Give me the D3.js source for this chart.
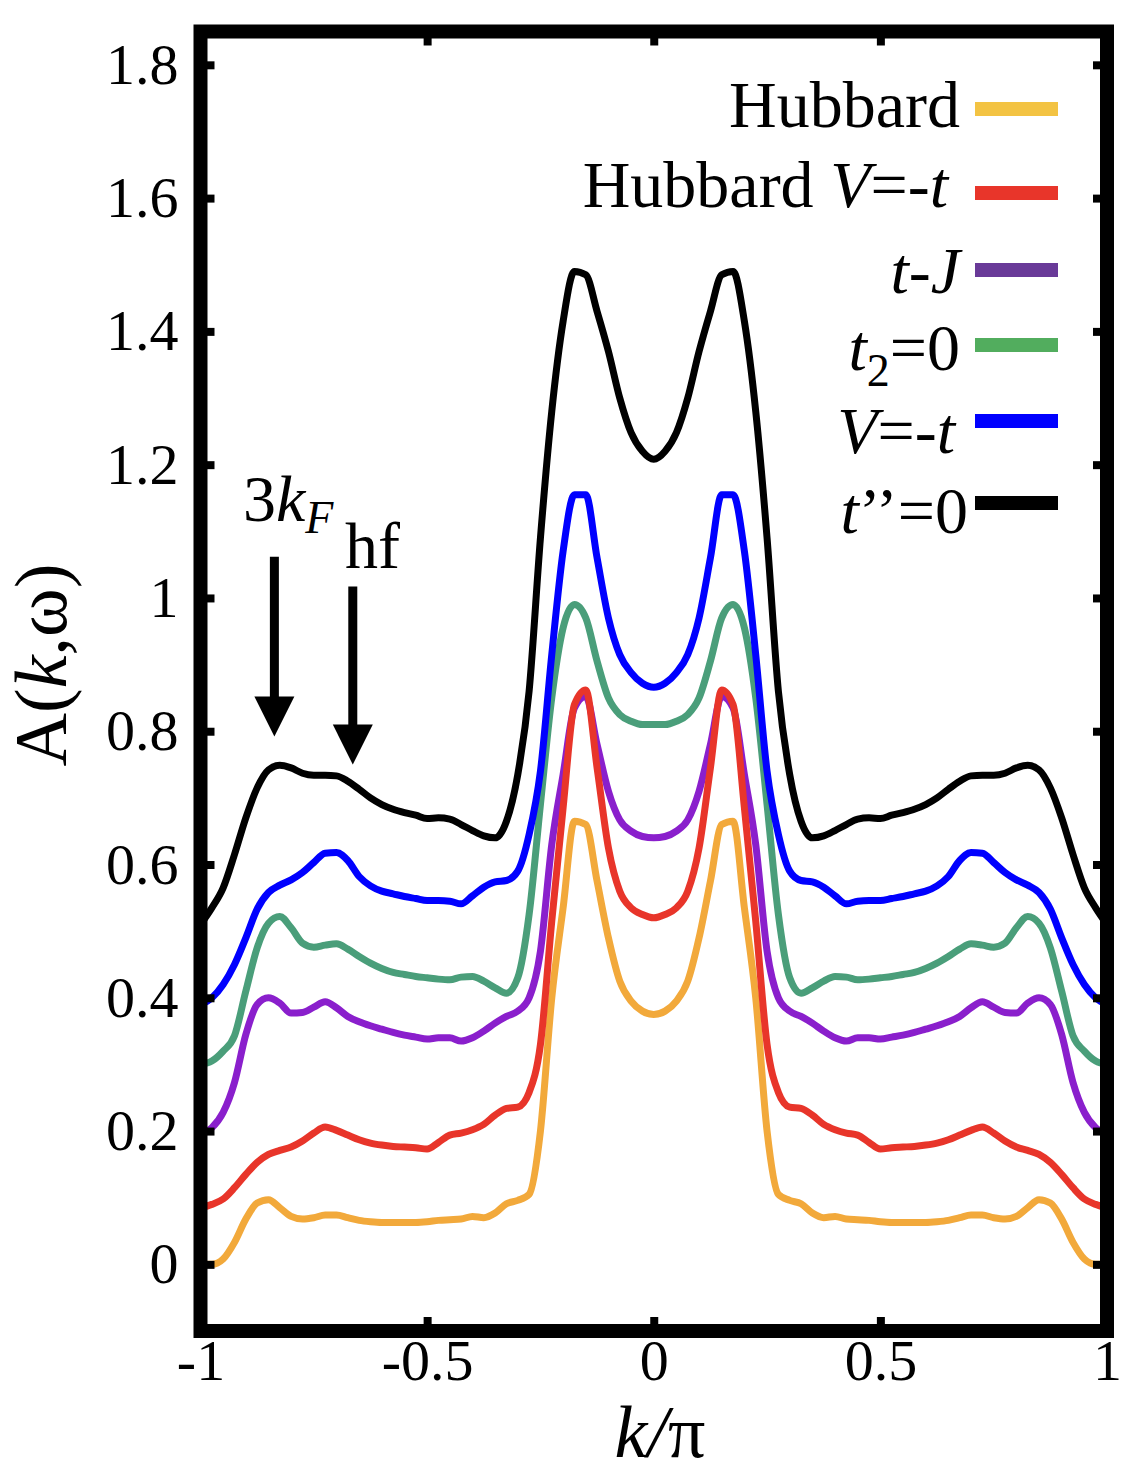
<!DOCTYPE html>
<html>
<head>
<meta charset="utf-8">
<script src="https://cdn.jsdelivr.net/npm/d3@7"></script>
<style>
  body { margin: 0; background: #fff; }
  svg { display: block; font-family: "Liberation Serif", "Times New Roman", serif; }
</style>
</head>
<body>
<svg id="chart" width="1136" height="1484"></svg>
<script>
// k/pi grid
var kValues = [
  -1, -0.975, -0.95, -0.925, -0.9, -0.875, -0.85, -0.825, -0.8, -0.775,
  -0.75, -0.725, -0.7, -0.675, -0.65, -0.625, -0.6, -0.575, -0.55, -0.525,
  -0.5, -0.475, -0.45, -0.425, -0.4, -0.375, -0.35, -0.325, -0.3, -0.275,
  -0.25, -0.225, -0.2, -0.175, -0.15, -0.125, -0.1, -0.075, -0.05, -0.025,
  0,
  0.025, 0.05, 0.075, 0.1, 0.125, 0.15, 0.175, 0.2, 0.225, 0.25,
  0.275, 0.3, 0.325, 0.35, 0.375, 0.4, 0.425, 0.45, 0.475, 0.5,
  0.525, 0.55, 0.575, 0.6, 0.625, 0.65, 0.675, 0.7, 0.725, 0.75,
  0.775, 0.8, 0.825, 0.85, 0.875, 0.9, 0.925, 0.95, 0.975, 1
];

var hubbard = [
  0.0, 0.0, 0.008, 0.033, 0.068, 0.092, 0.097, 0.085, 0.072, 0.068,
  0.070, 0.074, 0.074, 0.070, 0.066, 0.064, 0.063, 0.063, 0.063, 0.063,
  0.064, 0.066, 0.067, 0.068, 0.072, 0.070, 0.077, 0.091, 0.096, 0.105,
  0.20, 0.40, 0.535, 0.665, 0.66, 0.575, 0.49, 0.425, 0.395, 0.38,
  0.375,
  0.38, 0.395, 0.425, 0.49, 0.575, 0.66, 0.665, 0.535, 0.40, 0.20,
  0.105, 0.096, 0.091, 0.077, 0.070, 0.072, 0.068, 0.067, 0.066, 0.064,
  0.063, 0.063, 0.063, 0.063, 0.064, 0.066, 0.070, 0.074, 0.074, 0.070,
  0.068, 0.072, 0.085, 0.097, 0.092, 0.068, 0.033, 0.008, 0.0, 0.0
];

var hubbardV = [
  0.085, 0.09, 0.098, 0.115, 0.135, 0.153, 0.165, 0.171, 0.176, 0.185,
  0.197, 0.206, 0.201, 0.194, 0.187, 0.182, 0.179, 0.177, 0.176, 0.175,
  0.173, 0.183, 0.194, 0.197, 0.202, 0.21, 0.224, 0.234, 0.236, 0.258,
  0.33, 0.515, 0.685, 0.84, 0.862, 0.745, 0.625, 0.56, 0.535, 0.525,
  0.52,
  0.525, 0.535, 0.56, 0.625, 0.745, 0.862, 0.84, 0.685, 0.515, 0.33,
  0.258, 0.236, 0.234, 0.224, 0.21, 0.202, 0.197, 0.194, 0.183, 0.173,
  0.175, 0.176, 0.177, 0.179, 0.182, 0.187, 0.194, 0.201, 0.206, 0.197,
  0.185, 0.176, 0.171, 0.165, 0.153, 0.135, 0.115, 0.098, 0.09, 0.085
];

var tJ = [
  0.195, 0.205, 0.228, 0.273, 0.345, 0.39, 0.400, 0.392, 0.377, 0.378,
  0.386, 0.394, 0.385, 0.372, 0.364, 0.358, 0.353, 0.348, 0.344, 0.341,
  0.338, 0.340, 0.340, 0.335, 0.340, 0.350, 0.362, 0.372, 0.380, 0.40,
  0.47, 0.63, 0.735, 0.835, 0.852, 0.78, 0.71, 0.667, 0.65, 0.642,
  0.64,
  0.642, 0.65, 0.667, 0.71, 0.78, 0.852, 0.835, 0.735, 0.63, 0.47,
  0.40, 0.380, 0.372, 0.362, 0.350, 0.340, 0.335, 0.340, 0.340, 0.338,
  0.341, 0.344, 0.348, 0.353, 0.358, 0.364, 0.372, 0.385, 0.394, 0.386,
  0.378, 0.377, 0.392, 0.400, 0.39, 0.345, 0.273, 0.228, 0.205, 0.195
];

var t2zero = [
  0.30, 0.305, 0.32, 0.343, 0.41, 0.475, 0.512, 0.522, 0.505, 0.482,
  0.476, 0.479, 0.481, 0.473, 0.462, 0.452, 0.444, 0.438, 0.435, 0.432,
  0.430, 0.428, 0.427, 0.431, 0.432, 0.425, 0.415, 0.407, 0.43, 0.525,
  0.69, 0.85, 0.955, 0.99, 0.97, 0.905, 0.85, 0.825, 0.815, 0.81,
  0.81,
  0.81, 0.815, 0.825, 0.85, 0.905, 0.97, 0.99, 0.955, 0.85, 0.69,
  0.525, 0.43, 0.407, 0.415, 0.425, 0.432, 0.431, 0.427, 0.428, 0.430,
  0.432, 0.435, 0.438, 0.444, 0.452, 0.462, 0.473, 0.481, 0.479, 0.476,
  0.482, 0.505, 0.522, 0.512, 0.475, 0.41, 0.343, 0.32, 0.305, 0.30
];

var vMinusT = [
  0.39, 0.40, 0.42, 0.45, 0.49, 0.533, 0.558, 0.569, 0.577, 0.588,
  0.603, 0.617, 0.618, 0.606, 0.582, 0.568, 0.560, 0.556, 0.552, 0.549,
  0.546, 0.546, 0.545, 0.541, 0.553, 0.566, 0.574, 0.576, 0.590, 0.645,
  0.74, 0.915, 1.07, 1.155, 1.155, 1.06, 0.97, 0.915, 0.888, 0.872,
  0.866,
  0.872, 0.888, 0.915, 0.97, 1.06, 1.155, 1.155, 1.07, 0.915, 0.74,
  0.645, 0.590, 0.576, 0.574, 0.566, 0.553, 0.541, 0.545, 0.546, 0.546,
  0.549, 0.552, 0.556, 0.560, 0.568, 0.582, 0.606, 0.618, 0.617, 0.603,
  0.588, 0.577, 0.569, 0.558, 0.533, 0.49, 0.45, 0.42, 0.40, 0.39
];

var t3zero = [
  0.51, 0.535, 0.565, 0.615, 0.67, 0.715, 0.742, 0.749, 0.745, 0.737,
  0.734, 0.734, 0.733, 0.725, 0.713, 0.700, 0.690, 0.683, 0.678, 0.674,
  0.669, 0.670, 0.668, 0.660, 0.651, 0.643, 0.640, 0.665, 0.735, 0.86,
  1.09, 1.28, 1.415, 1.49, 1.485, 1.43, 1.37, 1.30, 1.248, 1.22,
  1.208,
  1.22, 1.248, 1.30, 1.37, 1.43, 1.485, 1.49, 1.415, 1.28, 1.09,
  0.86, 0.735, 0.665, 0.640, 0.643, 0.651, 0.660, 0.668, 0.670, 0.669,
  0.674, 0.678, 0.683, 0.690, 0.700, 0.713, 0.725, 0.733, 0.734, 0.734,
  0.737, 0.745, 0.749, 0.742, 0.715, 0.67, 0.615, 0.565, 0.535, 0.51
];

var xTicks = [-1, -0.5, 0, 0.5, 1];
var xTickLabels = ["-1", "-0.5", "0", "0.5", "1"];
var yTicks = [0, 0.2, 0.4, 0.6, 0.8, 1, 1.2, 1.4, 1.6, 1.8];
var yTickLabels = ["0", "0.2", "0.4", "0.6", "0.8", "1", "1.2", "1.4", "1.6", "1.8"];

// legend labels as [text, italic, subscript] pieces
var seriesNames = ["hubbard", "hubbardV", "tJ", "t2zero", "vMinusT", "t3zero"];
var seriesLabels = [
  [["Hubbard", 0]],
  [["Hubbard ", 0], ["V", 1], ["=-", 0], ["t", 1]],
  [["t", 1], ["-", 0], ["J", 1]],
  [["t", 1], ["2", 0, 1], ["=0", 0]],
  [["V", 1], ["=-", 0], ["t", 1]],
  [["t", 1], ["\u2019\u2019=0", 0]]
];

// arrow annotations (k/pi, top, tip)
var arrows = [
  {k: -0.837, top: 1.062, tip: 0.792},
  {k: -0.664, top: 1.017, tip: 0.750}
];

var dataLookup = {
  hubbard: hubbard, hubbardV: hubbardV, tJ: tJ,
  t2zero: t2zero, vMinusT: vMinusT, t3zero: t3zero
};

var lineColor = {
  hubbard: "#f2a93b", hubbardV: "#e8352a", tJ: "#8a1fcc",
  t2zero: "#4a9e7a", vMinusT: "#0000ff", t3zero: "#000000"
};
var keyColor = {
  hubbard: "#f3c343", hubbardV: "#e8352a", tJ: "#693a98",
  t2zero: "#52ad5e", vMinusT: "#0000ff", t3zero: "#000000"
};
var drawOrder = ["hubbard", "tJ", "hubbardV", "t2zero", "vMinusT", "t3zero"];

///////////////////
var svg = d3.select("#chart");
var plotL = 200.5, plotR = 1107, plotT = 31.5, plotB = 1331;

var xScale = d3.scaleLinear().domain([-1, 1]).range([plotL, plotR]);
var yScale = d3.scaleLinear().domain([-0.1, 1.85]).range([plotB, plotT]);

var line = d3.line()
  .curve(d3.curveMonotoneX)
  .x(d => xScale(d.k))
  .y(d => yScale(d.v));

drawOrder.forEach(function (name) {
  var pts = kValues.map((k, i) => ({k: k, v: dataLookup[name][i]}));
  svg.append("path")
    .datum(pts)
    .attr("fill", "none")
    .attr("stroke", lineColor[name])
    .attr("stroke-width", 7)
    .attr("stroke-linejoin", "round")
    .attr("d", line);
});

// axes, ticks point inward
function styleAxis(g, size) {
  g.select(".domain").remove();
  g.selectAll(".tick line").attr("stroke", "#000").attr("stroke-width", 8);
  g.attr("font-family", null).attr("font-size", size);
  g.selectAll("text").attr("fill", "#000");
}

svg.append("g").attr("transform", `translate(0, ${plotB})`)
  .call(d3.axisBottom(xScale).tickValues(xTicks).tickSize(-14).tickPadding(8)
    .tickFormat((d, i) => xTickLabels[i]))
  .call(g => styleAxis(g, 58));

svg.append("g").attr("transform", `translate(0, ${plotT})`)
  .call(d3.axisTop(xScale).tickValues(xTicks).tickSize(-14).tickFormat(""))
  .call(g => styleAxis(g, 58));

svg.append("g").attr("transform", `translate(${plotL}, 0)`)
  .call(d3.axisLeft(yScale).tickValues(yTicks).tickSize(-14).tickPadding(22)
    .tickFormat((d, i) => yTickLabels[i]))
  .call(g => styleAxis(g, 58));

svg.append("g").attr("transform", `translate(${plotR}, 0)`)
  .call(d3.axisRight(yScale).tickValues(yTicks).tickSize(-14).tickFormat(""))
  .call(g => styleAxis(g, 58));

svg.append("rect")
  .attr("x", plotL).attr("y", plotT)
  .attr("width", plotR - plotL).attr("height", plotB - plotT)
  .attr("fill", "none").attr("stroke", "#000").attr("stroke-width", 14);

// axis titles
var yLab = svg.append("text")
  .attr("transform", "translate(66, 665) rotate(-90)")
  .attr("text-anchor", "middle").attr("font-size", 74);
yLab.append("tspan").text("A(");
yLab.append("tspan").attr("font-style", "italic").text("k");
yLab.append("tspan").text(",\u03c9)");

var xLab = svg.append("text")
  .attr("x", 660).attr("y", 1457)
  .attr("text-anchor", "middle").attr("font-size", 74);
xLab.append("tspan").attr("font-style", "italic").text("k");
xLab.append("tspan").attr("font-style", "italic").text("/");
xLab.append("tspan").text("\u03c0");

// legend
var keyLineY = [109, 193, 270, 345, 421, 503];
var keyTextY = [127, 207, 293, 370, 453, 533];
var keyTextX = [960, 948, 960, 960, 955, 968];

seriesNames.forEach(function (name, i) {
  svg.append("line")
    .attr("x1", 975).attr("x2", 1058)
    .attr("y1", keyLineY[i]).attr("y2", keyLineY[i])
    .attr("stroke", keyColor[name]).attr("stroke-width", 14);
  var t = svg.append("text")
    .attr("x", keyTextX[i]).attr("y", keyTextY[i])
    .attr("text-anchor", "end").attr("font-size", 66);
  seriesLabels[i].forEach(function (p) {
    var s = t.append("tspan").text(p[0]);
    if (p[1]) s.attr("font-style", "italic");
    if (p[2]) s.attr("font-size", 46).attr("dy", 16);
    else if (p !== seriesLabels[i][0] && seriesLabels[i].some(q => q[2])) s.attr("dy", -16);
  });
});

// arrows and their labels
arrows.forEach(function (a) {
  var x = xScale(a.k), y0 = yScale(a.top), y1 = yScale(a.tip);
  svg.append("line")
    .attr("x1", x).attr("x2", x).attr("y1", y0).attr("y2", y1 - 38)
    .attr("stroke", "#000").attr("stroke-width", 9);
  svg.append("path")
    .attr("d", `M${x - 20},${y1 - 40}L${x + 20},${y1 - 40}L${x},${y1}Z`)
    .attr("fill", "#000");
});

var kf = svg.append("text").attr("x", 243).attr("y", 521).attr("font-size", 66);
kf.append("tspan").text("3");
kf.append("tspan").attr("font-style", "italic").text("k");
kf.append("tspan").attr("font-style", "italic").attr("font-size", 46).attr("dy", 12).text("F");

svg.append("text").attr("x", 345).attr("y", 568).attr("font-size", 66).text("hf");
</script>
</body>
</html>
